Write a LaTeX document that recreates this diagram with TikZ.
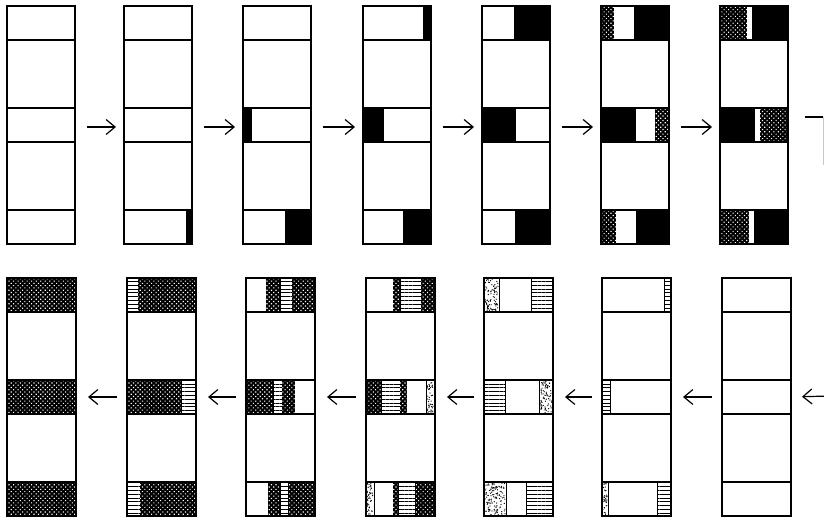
\documentclass[tikz,border=0pt]{standalone}
\usetikzlibrary{patterns.meta,arrows.meta}
\tikzset{
  colnode/.style={draw, line width=1.8pt, minimum width=68pt, minimum height=238pt, inner sep=0pt, outer sep=0pt},
  colnodeb/.style={colnode, minimum width=69pt},
  bandline/.style={line width=1.6pt},
  blk/.style={fill=black},
  xh/.style={fill=black, postaction={pattern={Dots[radius=0.8pt,distance=3.2pt,angle=45]}, pattern color=white}},
  hl/.style={pattern={Lines[angle=0,distance=3.8pt,line width=1pt]}, draw, line width=0.8pt},
  arr/.style={-{Straight Barb[length=9pt,width=15pt]}, line width=1.2pt},
}
\newcommand\seg[5]{\path[#1] (#2,#4) rectangle (#3,#5);}
\newcommand\stip[4]{%
  \draw[line width=0.8pt] (#1,#3) rectangle (#2,#4);
  \pgfmathtruncatemacro\stipN{(#2-#1)*(#4-#3)/6}
  \foreach \k in {1,...,\stipN}{
    \pgfmathsetmacro\rx{#1+0.9+rnd*(#2-#1-1.8)}
    \pgfmathsetmacro\ry{#3+0.9+rnd*(#4-#3-1.8)}
    \fill (\rx,\ry) circle (0.65pt);
  }%
}
\newcommand\bands[3]{%
  \foreach \yy in {34,102,136,204}{\draw[bandline] (#1,#3+\yy) -- (#2,#3+\yy);}%
}
\begin{document}
\begin{tikzpicture}[x=1pt,y=-1pt]
\useasboundingbox (0,0) rectangle (824,521);
\pgfmathsetseed{7}
% ---------- top row fills ----------
\seg{blk}{186}{192}{210}{244}
\seg{blk}{243}{252}{108}{142}
\seg{blk}{285}{311}{210}{244}
\seg{blk}{423}{431}{6}{40}
\seg{blk}{363}{384}{108}{142}
\seg{blk}{403}{431}{210}{244}
\seg{blk}{514}{550}{6}{40}
\seg{blk}{482}{516}{108}{142}
\seg{blk}{515}{550}{210}{244}
\seg{xh}{601}{614}{6}{40}
\seg{blk}{634}{669}{6}{40}
\seg{blk}{601}{636}{108}{142}
\seg{xh}{655}{669}{108}{142}
\seg{xh}{601}{616}{210}{244}
\seg{blk}{636}{669}{210}{244}
\seg{xh}{720}{747}{6}{40}
\seg{blk}{752}{788}{6}{40}
\seg{blk}{720}{755}{108}{142}
\seg{xh}{760}{788}{108}{142}
\seg{xh}{720}{749}{210}{244}
\seg{blk}{754}{788}{210}{244}
% ---------- bottom row fills ----------
\seg{xh}{7}{76}{278}{312}
\seg{xh}{7}{76}{380}{414}
\seg{xh}{7}{76}{482}{516}
\seg{hl}{127}{138}{278}{312}
\seg{xh}{138}{196}{278}{312}
\seg{xh}{127}{181}{380}{414}
\seg{hl}{181}{196}{380}{414}
\seg{hl}{127}{140}{482}{516}
\seg{xh}{140}{196}{482}{516}
\seg{xh}{266}{280}{278}{312}
\seg{hl}{280}{292}{278}{312}
\seg{xh}{292}{315}{278}{312}
\seg{xh}{246}{273}{380}{414}
\seg{hl}{273}{282}{380}{414}
\seg{xh}{282}{295}{380}{414}
\seg{xh}{268}{280}{482}{516}
\seg{hl}{280}{288}{482}{516}
\seg{xh}{288}{315}{482}{516}
\seg{xh}{393}{400}{278}{312}
\seg{hl}{400}{421}{278}{312}
\seg{xh}{421}{434}{278}{312}
\seg{xh}{366}{381}{380}{414}
\seg{hl}{381}{400}{380}{414}
\seg{xh}{400}{407}{380}{414}
\stip{426}{434}{380}{414}
\stip{366}{374}{482}{516}
\seg{xh}{393}{398}{482}{516}
\seg{hl}{398}{415}{482}{516}
\seg{xh}{415}{434}{482}{516}
\stip{484}{499}{278}{312}
\seg{hl}{531}{553}{278}{312}
\seg{hl}{484}{505}{380}{414}
\stip{539}{553}{380}{414}
\stip{484}{506}{482}{516}
\seg{hl}{526}{553}{482}{516}
\seg{hl}{664}{671}{278}{312}
\seg{hl}{602}{610}{380}{414}
\stip{602}{608}{482}{516}
\seg{hl}{657}{671}{482}{516}
% ---------- band lines ----------
\foreach \x in {7,124,243,363,482,601,720}{\bands{\x}{\x+68}{6}}
\foreach \x in {7,127,246,366,484,602,722}{\bands{\x}{\x+69}{278}}
% ---------- column outlines ----------
\node[colnode] (t1) at (41,125) {};
\node[colnode] (t2) at (158,125) {};
\node[colnode] (t3) at (277,125) {};
\node[colnode] (t4) at (397,125) {};
\node[colnode] (t5) at (516,125) {};
\node[colnode] (t6) at (635,125) {};
\node[colnode] (t7) at (754,125) {};
\node[colnodeb] (b1) at (41.5,397) {};
\node[colnodeb] (b2) at (161.5,397) {};
\node[colnodeb] (b3) at (280.5,397) {};
\node[colnodeb] (b4) at (400.5,397) {};
\node[colnodeb] (b5) at (518.5,397) {};
\node[colnodeb] (b6) at (636.5,397) {};
\node[colnodeb] (b7) at (756.5,397) {};
% ---------- arrows ----------
\foreach \a/\b in {t1/t2,t2/t3,t3/t4,t4/t5,t5/t6,t6/t7}{
  \draw[arr, shorten <=12pt, shorten >=8pt] ([yshift=-2pt]\a.east) -- ([yshift=-2pt]\b.west);
}
\foreach \a/\b in {b2/b1,b3/b2,b4/b3,b5/b4,b6/b5,b7/b6}{
  \draw[arr, shorten <=10pt, shorten >=12pt] (\a.west) -- (\b.east);
}
\coordinate (k1) at (805,117);
\coordinate (k2) at (823,117);
\coordinate (k3) at (823,165);
\coordinate (k4) at (830,396);
\draw[line width=1.2pt] (k1) -- (k2);
\draw[gray!45, line width=0.8pt] (k2) -- (k3);
\draw[arr, shorten >=11pt] (k4) -- (b7.east);
\end{tikzpicture}
\end{document}
